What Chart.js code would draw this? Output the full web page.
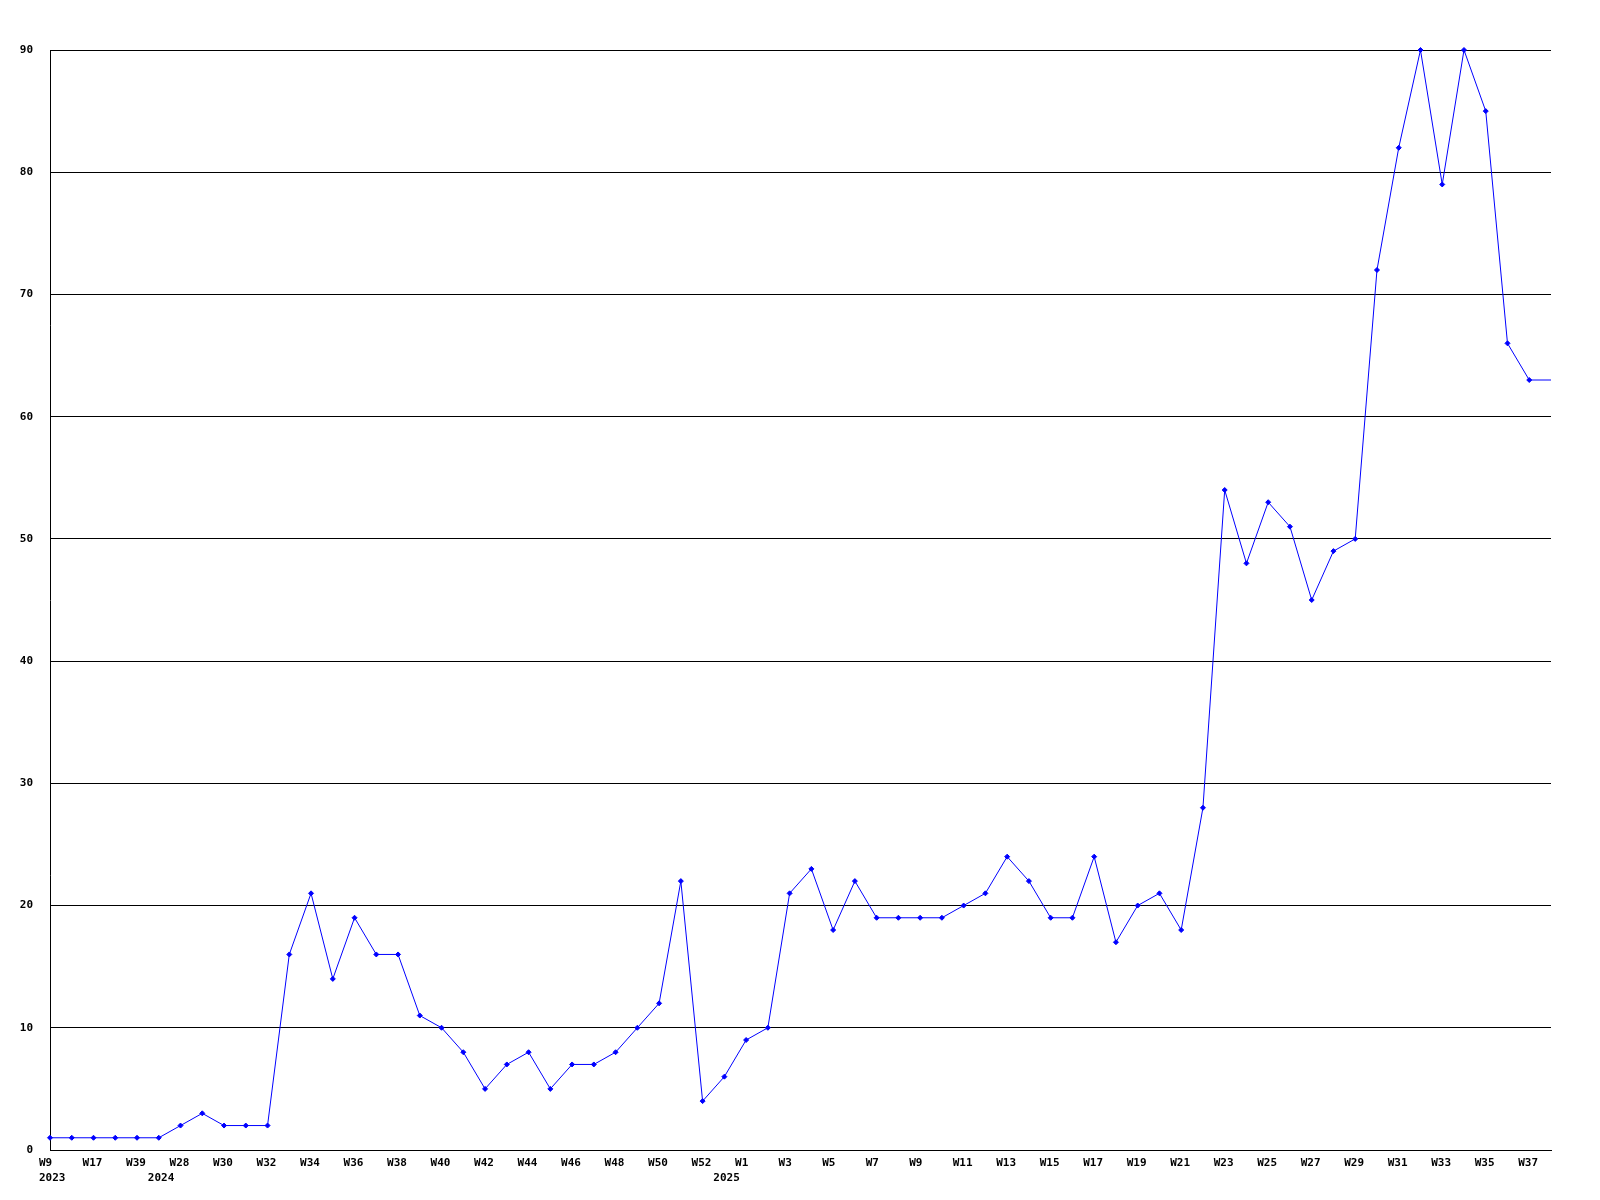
<!DOCTYPE html>
<html>
<head>
<meta charset="utf-8">
<script src="https://cdn.jsdelivr.net/npm/chart.js@4/dist/chart.umd.min.js"></script>
<style>
  html, body { margin: 0; padding: 0; background: #ffffff; }
  #wrap { width: 1600px; height: 1200px; }
</style>
</head>
<body>
<div id="wrap"><canvas id="c" width="1600" height="1200"></canvas></div>
<script>
// ---- data ----
const weeks = [
  'W9','W12','W17','W26','W39',
  'W27','W28','W29','W30','W31','W32','W33','W34','W35','W36','W37','W38','W39','W40',
  'W41','W42','W43','W44','W45','W46','W47','W48','W49','W50','W51','W52',
  'W0','W1','W2','W3','W4','W5','W6','W7','W8','W9','W10','W11','W12','W13','W14','W15',
  'W16','W17','W18','W19','W20','W21','W22','W23','W24','W25','W26','W27','W28','W29',
  'W30','W31','W32','W33','W34','W35','W36','W37','W38'
];
const years = [
  '2023','2023','2023','2023','2023',
  '2024','2024','2024','2024','2024','2024','2024','2024','2024','2024','2024','2024','2024','2024',
  '2024','2024','2024','2024','2024','2024','2024','2024','2024','2024','2024','2024',
  '2025','2025','2025','2025','2025','2025','2025','2025','2025','2025','2025','2025','2025','2025','2025','2025',
  '2025','2025','2025','2025','2025','2025','2025','2025','2025','2025','2025','2025','2025','2025',
  '2025','2025','2025','2025','2025','2025','2025','2025','2025'
];
const counts = [
  1, 1, 1, 1, 1,
  1, 2, 3, 2, 2, 2, 16, 21, 14, 19, 16, 16, 11, 10,
  8, 5, 7, 8, 5, 7, 7, 8, 10, 12, 22, 4,
  6, 9, 10, 21, 23, 18, 22, 19, 19, 19, 19, 20, 21, 24, 22, 19,
  19, 24, 17, 20, 21, 18, 28, 54, 48, 53, 51, 45, 49, 50,
  72, 82, 90, 79, 90, 85, 66, 63, 63
];
const yTicks = [0, 10, 20, 30, 40, 50, 60, 70, 80, 90];

const tickFont = { family: "'DejaVu Sans Mono', monospace", size: 11, weight: 'bold', lineHeight: '15px' };

new Chart(document.getElementById('c'), {
  type: 'line',
  data: {
    labels: weeks,
    datasets: [{
      data: counts,
      borderColor: '#0000ff',
      backgroundColor: '#0000ff',
      borderWidth: 1,
      tension: 0,
      fill: false,
      clip: false,
      pointStyle: 'rectRot',
      pointRadius: ctx => (ctx.dataIndex === counts.length - 1 ? 0 : 2.5),
      pointBorderWidth: 1,
      pointBorderColor: '#0000ff',
      pointBackgroundColor: '#0000ff'
    }]
  },
  options: {
    responsive: false,
    animation: false,
    devicePixelRatio: 1,
    layout: { padding: { top: 50, right: 49, bottom: 0, left: 0 } },
    plugins: { legend: { display: false }, tooltip: { enabled: false } },
    scales: {
      x: {
        type: 'category',
        offset: false,
        grid: { display: false, drawTicks: false },
        border: { display: true, color: '#000000', width: 1 },
        afterFit: s => { s.height = 50; },
        ticks: {
          autoSkip: false,
          maxRotation: 0,
          minRotation: 0,
          padding: 6,
          align: 'start',
          labelOffset: -11,
          color: '#000000',
          font: tickFont,
          callback: function (value, index) {
            const isYearStart = index === 0 || years[index] !== years[index - 1];
            const wk = index % 2 === 0 ? weeks[index] : '';
            if (index === weeks.length - 1) return '';
            if (isYearStart) return [wk, years[index]];
            return wk;
          }
        }
      },
      y: {
        min: yTicks[0],
        max: yTicks[yTicks.length - 1],
        afterFit: s => { s.width = 50; },
        afterBuildTicks: s => { s.ticks = yTicks.map(v => ({ value: v })); },
        grid: { color: '#000000', lineWidth: 1, drawTicks: false },
        border: { display: true, color: '#000000', width: 1 },
        ticks: {
          padding: 17,
          color: '#000000',
          font: tickFont,
          callback: v => String(v)
        }
      }
    }
  }
});
</script>
</body>
</html>
